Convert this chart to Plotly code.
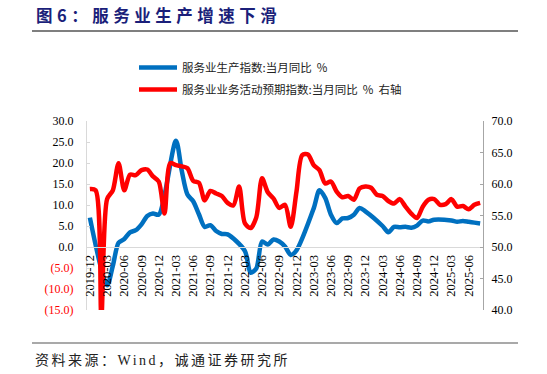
import plotly.graph_objects as go

# ---------------- data ----------------
months = []
for y in range(2019, 2026):
    for m in range(1, 13):
        lab = f"{y}-{m:02d}"
        if "2019-12" <= lab <= "2025-08":
            months.append(lab)

tick_labels = months[::3]

# 服务业生产指数:当月同比 (%)  -- Jan/Feb not published
service_prod = [
    7.0,                                                               # 2019-12
    None, None, -9.1, -4.5, 1.0, 1.9, 3.5, 4.0, 5.4, 7.4, 8.0, 7.7,   # 2020
    None, None, 25.3, 18.2, 12.5, 10.9, 7.8, 4.8, 5.2, 3.8, 3.1, 3.0, # 2021
    None, None, -0.9, -6.1, -5.1, 1.3, 0.6, 1.8, 1.3, 0.1, -1.9, -0.8,# 2022
    None, None, 9.2, 13.5, 11.7, 7.7, 5.7, 6.8, 6.9, 7.7, 9.3, 8.5,   # 2023
    None, None, 5.0, 3.5, 4.8, 4.7, 4.8, 4.6, 5.1, 6.3, 6.1, 6.5,     # 2024
    None, None, 6.3, 6.0, 6.2, 6.0, 5.8, 5.6,                         # 2025
]

# 服务业业务活动预期指数:当月值 (右轴)
service_expect = [
    59.2,                                                                     # 2019-12
    59.0, 39.0, 57.6, 59.0, 63.3, 59.0, 61.5, 61.4, 62.2, 62.3, 61.2, 60.4,   # 2020
    55.3, 63.3, 63.0, 62.8, 62.5, 60.5, 60.2, 57.4, 58.9, 58.5, 58.1, 57.0,   # 2021
    56.6, 59.6, 53.8, 53.0, 54.7, 60.9, 58.7, 57.7, 56.2, 56.7, 53.2, 58.8,   # 2022
    64.6, 64.7, 63.0, 62.2, 60.1, 60.4, 58.8, 57.9, 58.1, 57.5, 59.3, 59.6,   # 2023
    59.4, 58.3, 58.1, 57.3, 56.9, 57.6, 56.4, 55.3, 54.6, 56.4, 57.5, 57.6,   # 2024
    56.7, 56.8, 57.6, 56.4, 56.5, 56.0, 56.7, 57.0,                           # 2025
]

left_ticks = [-15, -10, -5, 0, 5, 10, 15, 20, 25, 30]
right_ticks = [40, 45, 50, 55, 60, 65, 70]

name_blue = "服务业生产指数:当月同比  %"
name_red = "服务业业务活动预期指数:当月同比  %  右轴"

# ---------------- figure ----------------
W, H = 547, 374
ML, MR, MT, MB = 87, 64, 121, 64
PW, PH = W - ML - MR, H - MT - MB


def px_x(p):
    return (p - ML) / PW


def px_y(p):
    return (H - MB - p) / PH


def fmt_left(v):
    if v < 0:
        return f'<span style="color:#FF0000">({abs(v):.1f})</span>'
    return f"{v:.1f}"


fig = go.Figure()
fig.add_trace(go.Scatter(
    x=months, y=service_prod, name=name_blue, mode="lines",
    line=dict(color="#0070C0", width=4.5, shape="spline", smoothing=0.8),
    connectgaps=True, yaxis="y", legend="legend",
))
fig.add_trace(go.Scatter(
    x=months, y=service_expect, name=name_red, mode="lines",
    line=dict(color="#FF0000", width=4.5, shape="spline", smoothing=0.8),
    yaxis="y2", legend="legend2",
))

serif = "Liberation Serif, Times New Roman, serif"
cjk = "Noto Sans CJK SC, sans-serif"

fig.update_layout(
    width=W, height=H,
    margin=dict(l=ML, r=MR, t=MT, b=MB, autoexpand=False),
    paper_bgcolor="white", plot_bgcolor="white",
    xaxis=dict(
        type="category", range=[-0.5, len(months) - 0.5],
        anchor="free", position=15 / 45,
        showline=True, linecolor="#d9d9d9", linewidth=1,
        ticks="", tickmode="array", tickvals=tick_labels, ticktext=tick_labels,
        tickangle=-90, tickfont=dict(family=serif, size=12.5, color="#000000"),
        showgrid=False, zeroline=False, ticklabelstandoff=2,
    ),
    yaxis=dict(
        range=[-15, 30], tickmode="array", tickvals=left_ticks,
        ticktext=[fmt_left(v) for v in left_ticks],
        tickfont=dict(family=serif, size=12, color="#000000"),
        showline=True, linecolor="#d9d9d9", linewidth=1,
        ticks="inside", ticklen=3, tickcolor="#d9d9d9",
        showgrid=False, zeroline=False, ticklabelstandoff=10,
    ),
    yaxis2=dict(
        overlaying="y", side="right", anchor="x",
        range=[40, 70], tickmode="array", tickvals=right_ticks,
        ticktext=[f"{v:.1f}" for v in right_ticks],
        tickfont=dict(family=serif, size=12, color="#000000"),
        showline=True, linecolor="#a6a6a6", linewidth=1,
        ticks="inside", ticklen=3, tickcolor="#a6a6a6",
        showgrid=False, zeroline=False, ticklabelstandoff=5,
    ),
    legend=dict(
        x=px_x(134), y=px_y(53), xanchor="left", yanchor="top",
        font=dict(family=cjk, size=11.5, color="#222222"),
        bgcolor="rgba(0,0,0,0)", borderwidth=0, itemwidth=38,
    ),
    legend2=dict(
        x=px_x(134), y=px_y(75), xanchor="left", yanchor="top",
        font=dict(family=cjk, size=11.5, color="#222222"),
        bgcolor="rgba(0,0,0,0)", borderwidth=0, itemwidth=38,
    ),
    showlegend=True,
)

# title, rules and source
fig.add_annotation(
    xref="paper", yref="paper", x=px_x(34), y=px_y(15),
    xanchor="left", yanchor="middle", showarrow=False,
    text='<b><span style="letter-spacing:4.5px">图6：服务业生产增速下滑</span></b>',
    font=dict(family=cjk, size=16.5, color="#1B1F7A"),
)
fig.add_shape(type="line", xref="paper", yref="paper",
              x0=px_x(32), x1=px_x(518), y0=px_y(31), y1=px_y(31),
              line=dict(color="#555555", width=1.5))
fig.add_shape(type="line", xref="paper", yref="paper",
              x0=px_x(32), x1=px_x(518), y0=px_y(343), y1=px_y(343),
              line=dict(color="#555555", width=1.2))
fig.add_annotation(
    xref="paper", yref="paper", x=px_x(33), y=px_y(360),
    xanchor="left", yanchor="middle", showarrow=False,
    text='<span style="letter-spacing:2.5px">资料来源：Wind，诚通证券研究所</span>',
    font=dict(family="Liberation Serif, Noto Sans CJK SC, serif", size=14, color="#222222"),
)

fig.write_html(
    "out.html",
    config={"displayModeBar": False},
    post_script="document.body.style.margin='0';document.body.style.padding='0';",
)
